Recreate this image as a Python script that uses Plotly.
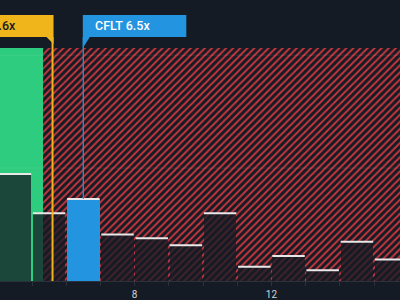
import plotly.graph_objects as go

# ---- data ----
bin_starts = [4, 5, 6, 7, 8, 9, 10, 11, 12, 13, 14, 15]
counts = [30, 19, 23, 13, 12, 10, 19, 4, 7, 3, 11, 6]
company_label = "CFLT"
company_value = 6.5
industry_label = "Software"
industry_value = 5.6
fair_threshold = 5.32
y_top = 65.3
grid_values = [31.65, 63.3]
x_range = [4.064, 15.76]

BG = "#151b24"
GREEN = "#2ecc7f"
RED = "#c4363e"
YELLOW = "#f0b51b"
BLUE = "#2394df"
BAR_DARK = "rgba(21,27,36,0.75)"

PX_PER_UNIT = 400 / (x_range[1] - x_range[0])
PLOT_H = 300 - 48 - 19

def paper_y(px):  # pixel row above plot top -> paper coordinate
    return 1 + (48 - px) / PLOT_H

fig = go.Figure()

# green (undervalued) region
fig.add_trace(go.Bar(
    x=[(3.0 + fair_threshold) / 2], y=[y_top], width=[fair_threshold - 3.0],
    marker=dict(color=GREEN, line=dict(width=0)), hoverinfo="skip", showlegend=False))

# hatched region
fig.add_trace(go.Bar(
    x=[(fair_threshold + 17.0) / 2], y=[y_top], width=[17.0 - fair_threshold],
    marker=dict(color=BG, line=dict(width=0),
                pattern=dict(shape="/", fgcolor=RED, bgcolor=BG, size=5, solidity=0.4,
                             fgopacity=1)),
    hoverinfo="skip", showlegend=False))

# histogram bars
centers = [b + 0.5 for b in bin_starts]
colors = [BLUE if b <= company_value < b + 1 else BAR_DARK for b in bin_starts]
fig.add_trace(go.Bar(
    x=centers, y=counts, width=0.95,
    marker=dict(color=colors, line=dict(width=0)), showlegend=False))

# white top lines
lx, ly = [], []
for b, c in zip(bin_starts, counts):
    lx += [b + 0.025, b + 0.975, None]
    ly += [c, c, None]
fig.add_trace(go.Scatter(x=lx, y=ly, mode="lines",
                         line=dict(color="#e8e8e8", width=2), hoverinfo="skip", showlegend=False))

shapes = []
for g in grid_values:
    shapes.append(dict(type="line", xref="paper", yref="y", x0=0, x1=1, y0=g, y1=g,
                       line=dict(color="rgba(255,255,255,0.08)", width=1), layer="above"))

# industry line + callout
box_w = 103 / PX_PER_UNIT
box_top = paper_y(15)
box_bot = paper_y(37)
shapes.append(dict(type="line", xref="x", yref="paper", x0=industry_value, x1=industry_value,
                   y0=0, y1=box_bot, line=dict(color=YELLOW, width=2), layer="above"))
shapes.append(dict(type="rect", xref="x", yref="paper",
                   x0=industry_value - box_w, x1=industry_value + 1 / PX_PER_UNIT,
                   y0=box_bot, y1=box_top, fillcolor=YELLOW, line=dict(width=0), layer="above"))
ix = industry_value
shapes.append(dict(type="path", xref="x", yref="paper",
                   path=f"M {ix - 6/PX_PER_UNIT},{box_bot} L {ix + 1/PX_PER_UNIT},{box_bot} "
                        f"L {ix + 1/PX_PER_UNIT},{paper_y(44)} Z",
                   fillcolor=YELLOW, line=dict(width=0), layer="above"))

# company line + callout
cy = counts[[i for i, b in enumerate(bin_starts) if b <= company_value < b + 1][0]]
shapes.append(dict(type="line", xref="x", yref="paper", x0=company_value, x1=company_value,
                   y0=cy / y_top, y1=box_bot, line=dict(color=BLUE, width=1.3), layer="above"))
shapes.append(dict(type="rect", xref="x", yref="paper",
                   x0=company_value - 0.5 / PX_PER_UNIT, x1=company_value + box_w,
                   y0=box_bot, y1=box_top, fillcolor=BLUE, line=dict(width=0), layer="above"))
cx = company_value - 0.5 / PX_PER_UNIT
shapes.append(dict(type="path", xref="x", yref="paper",
                   path=f"M {cx},{box_bot} L {cx + 7/PX_PER_UNIT},{box_bot} L {cx},{paper_y(48)} Z",
                   fillcolor=BLUE, line=dict(width=0), layer="above"))

annotations = [
    dict(xref="x", yref="paper", x=company_value + 9.5 / PX_PER_UNIT, y=(box_top + box_bot) / 2,
         text=f"{company_label} {company_value}x", showarrow=False, xanchor="left", yanchor="middle",
         font=dict(family="Roboto", size=12.5, color="#ffffff", weight=500)),
    dict(xref="paper", yref="paper", x=18 / 400, y=(box_top + box_bot) / 2,
         text=f"{industry_label} {industry_value}x", showarrow=False, xanchor="right", yanchor="middle",
         font=dict(family="Roboto", size=12.5, color=BG, weight=500)),
]

fig.update_layout(
    width=400, height=300,
    margin=dict(l=0, r=0, t=48, b=19, autoexpand=False),
    paper_bgcolor=BG, plot_bgcolor=BG,
    barmode="overlay", bargap=0,
    shapes=shapes, annotations=annotations,
    xaxis=dict(range=x_range, showgrid=False, zeroline=False, showline=True, automargin=False,
               linecolor="#2b323c", linewidth=1,
               ticks="outside", ticklen=4, tickcolor="#2b323c", tick0=0, dtick=4,
               ticklabelstandoff=0,
               tickfont=dict(family="Roboto", size=10, color="#d0d3d6"),
               minor=dict(dtick=1, ticks="outside", ticklen=4, tickcolor="#2b323c")),
    yaxis=dict(range=[0, y_top], showgrid=False, zeroline=False, showticklabels=False,
               automargin=False),
    font=dict(family="Roboto"),
)

fig.write_html("out.html")
